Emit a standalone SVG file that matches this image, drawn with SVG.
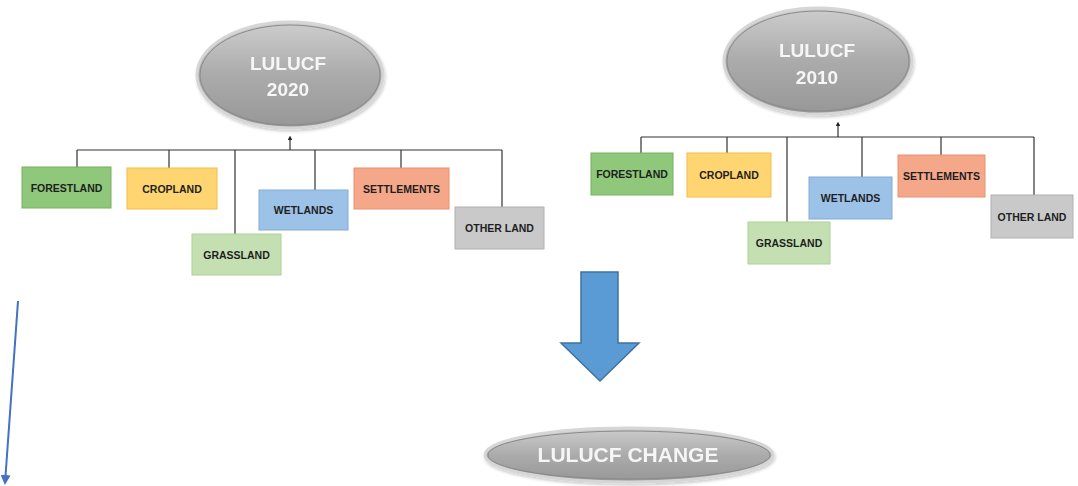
<svg xmlns="http://www.w3.org/2000/svg" width="1078" height="486" viewBox="0 0 1078 486">
<defs>
<linearGradient id="gEll" x1="0" y1="0" x2="0" y2="1">
<stop offset="0" stop-color="#cdcdcd"/>
<stop offset="0.5" stop-color="#ababab"/>
<stop offset="1" stop-color="#979797"/>
</linearGradient>
<marker id="mUp" viewBox="0 0 6 6" refX="3" refY="3" markerWidth="4" markerHeight="4" orient="auto">
<path d="M0,0 L6,3 L0,6 z" fill="#222"/>
</marker>
<marker id="mBlue" viewBox="0 0 10 10" refX="8" refY="5" markerWidth="5" markerHeight="5" orient="auto">
<path d="M0,0 L10,5 L0,10 z" fill="#4472c4"/>
</marker>
<filter id="sh" x="-10%" y="-10%" width="120%" height="130%">
<feDropShadow dx="1" dy="2" stdDeviation="1.5" flood-color="#000" flood-opacity="0.2"/>
</filter>
</defs>
<style>
.ell{fill:url(#gEll);stroke:#d6d6d6;stroke-width:3}
.ellin{fill:none;stroke:#8a8a8a;stroke-width:1}
.et{font-family:"Liberation Sans",Arial,sans-serif;font-weight:bold;fill:#f6f6f6;text-anchor:middle}
.box{stroke-width:1}
.bt{font-family:"Liberation Sans",Arial,sans-serif;font-weight:bold;font-size:10.5px;fill:#1e1e1e;text-anchor:middle}
.con{fill:none;stroke:#333;stroke-width:1.2}
.forest{fill:#8fc77b;stroke:#76b060}
.crop{fill:#ffd571;stroke:#f2bd4a}
.grass{fill:#c4e0b2;stroke:#aed296}
.wet{fill:#9dc2e8;stroke:#82abd8}
.settle{fill:#f5a789;stroke:#e98f6e}
.other{fill:#c9c9c9;stroke:#b0b0b0}
</style>
<rect width="1078" height="486" fill="#ffffff"/>

<g id="connectors">
<path class="con" d="M77,150 H502 M77,150 V167 M169,150 V168 M235,150 V234 M315,150 V190 M401,150 V168 M502,150 V207"/>
<line class="con" x1="290" y1="150" x2="290" y2="138" marker-end="url(#mUp)"/>
<path class="con" d="M641,137 H1034 M641,137 V153 M727,137 V153 M787,137 V222 M862,137 V177 M941,137 V155 M1034,137 V195"/>
<line class="con" x1="838" y1="137" x2="838" y2="124" marker-end="url(#mUp)"/>
<line x1="18" y1="301" x2="5" y2="483" stroke="#4472c4" stroke-width="2" marker-end="url(#mBlue)"/>
</g>

<g id="lulucf2020" filter="url(#sh)">
<ellipse class="ell" cx="290" cy="75" rx="93" ry="53"/>
<ellipse class="ellin" cx="290" cy="75" rx="90" ry="50"/>
<text class="et" x="288" y="70" font-size="19">LULUCF</text>
<text class="et" x="288" y="96" font-size="19">2020</text>
</g>

<g id="forestland2020"><rect class="box forest" x="22" y="167" width="89" height="41"/><text class="bt" x="66.5" y="191.5">FORESTLAND</text></g>
<g id="cropland2020"><rect class="box crop" x="127" y="168" width="90" height="41"/><text class="bt" x="172" y="192.5">CROPLAND</text></g>
<g id="grassland2020"><rect class="box grass" x="192" y="234" width="89" height="41"/><text class="bt" x="236.5" y="258.5">GRASSLAND</text></g>
<g id="wetlands2020"><rect class="box wet" x="259" y="190" width="89" height="40"/><text class="bt" x="303.5" y="214">WETLANDS</text></g>
<g id="settlements2020"><rect class="box settle" x="354" y="168" width="95" height="41"/><text class="bt" x="401.5" y="192.5">SETTLEMENTS</text></g>
<g id="otherland2020"><rect class="box other" x="455" y="207" width="89" height="42"/><text class="bt" x="499.5" y="232">OTHER LAND</text></g>

<g id="lulucf2010" filter="url(#sh)">
<ellipse class="ell" cx="818" cy="61" rx="94" ry="53"/>
<ellipse class="ellin" cx="818" cy="61" rx="91" ry="50"/>
<text class="et" x="817" y="57" font-size="19">LULUCF</text>
<text class="et" x="817" y="84" font-size="19">2010</text>
</g>

<g id="forestland2010"><rect class="box forest" x="591" y="153" width="82" height="42"/><text class="bt" x="632" y="178" font-size="10px">FORESTLAND</text></g>
<g id="cropland2010"><rect class="box crop" x="687" y="153" width="84" height="44"/><text class="bt" x="729" y="179" font-size="10px">CROPLAND</text></g>
<g id="grassland2010"><rect class="box grass" x="748" y="222" width="82" height="42"/><text class="bt" x="789" y="247" font-size="10px">GRASSLAND</text></g>
<g id="wetlands2010"><rect class="box wet" x="809" y="177" width="83" height="42"/><text class="bt" x="850.5" y="202" font-size="10px">WETLANDS</text></g>
<g id="settlements2010"><rect class="box settle" x="898" y="155" width="87" height="42"/><text class="bt" x="941.5" y="180" font-size="10px">SETTLEMENTS</text></g>
<g id="otherland2010"><rect class="box other" x="991" y="195" width="82" height="43"/><text class="bt" x="1032" y="220.5" font-size="10px">OTHER LAND</text></g>

<g id="bigarrow">
<path d="M581,272 H618 V343 H639 L600,381 L561,343 H581 Z" fill="#5b9bd5" stroke="#41719c" stroke-width="1.5" stroke-linejoin="miter"/>
</g>

<g id="lulucfchange" filter="url(#sh)">
<ellipse class="ell" cx="629" cy="455" rx="144" ry="27"/>
<ellipse class="ellin" cx="629" cy="455" rx="141" ry="24"/>
<text class="et" x="628" y="462" font-size="21">LULUCF CHANGE</text>
</g>
</svg>
